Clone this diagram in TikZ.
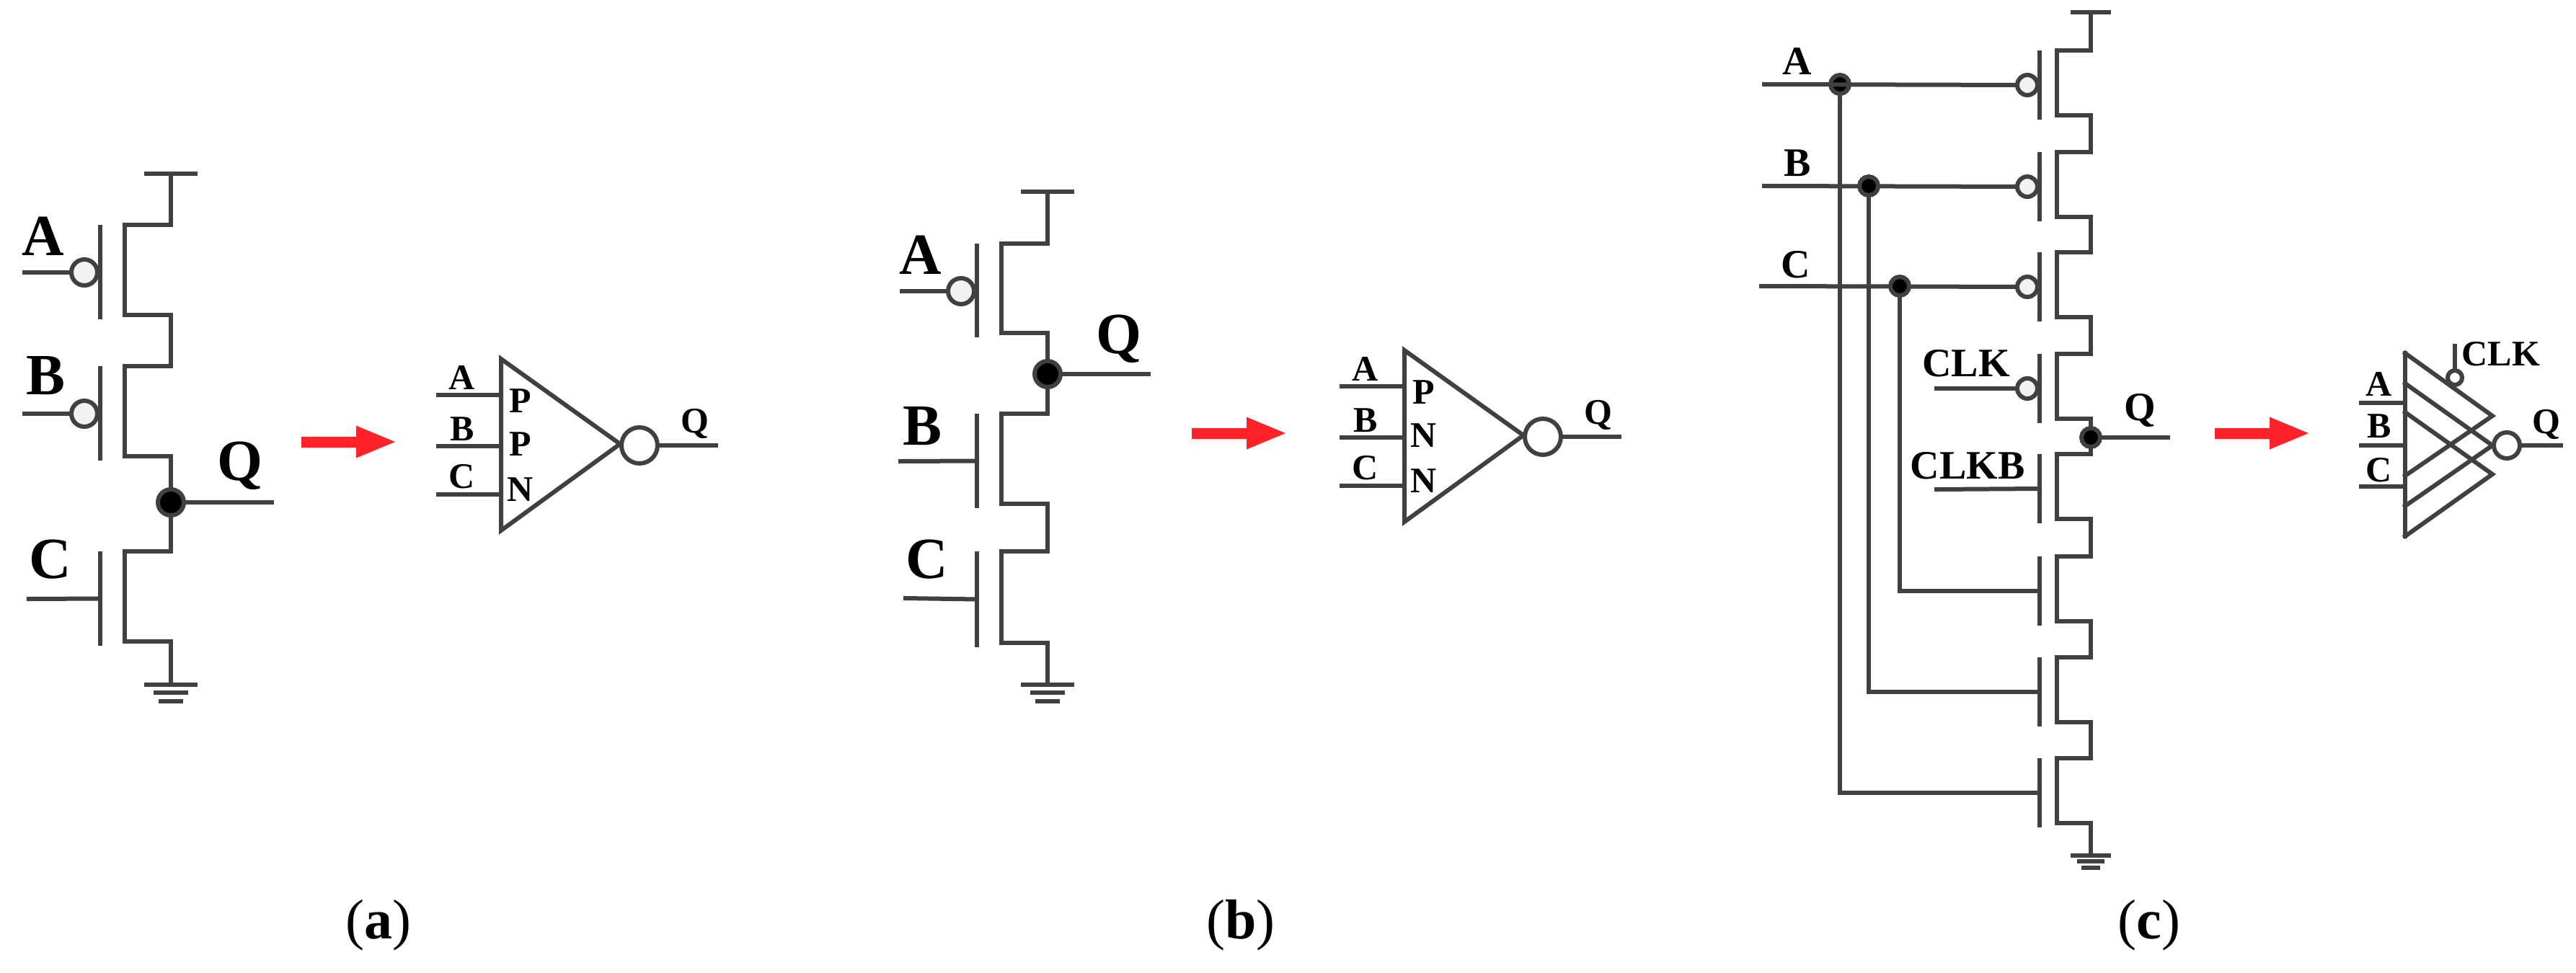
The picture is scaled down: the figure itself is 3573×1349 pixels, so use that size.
\documentclass[tikz,border=0pt]{standalone}
\usepackage{fontspec}
\setmainfont{Liberation Serif}
\usetikzlibrary{arrows.meta}

\definecolor{wiregray}{HTML}{404040}
\definecolor{arrowred}{HTML}{FF2229}

\tikzset{
    wire/.style = {draw=wiregray, line width=6pt, line cap=rect},
    bubble/.style = {circle, draw=wiregray, line width=6pt, fill=white!95!black,
        inner sep=0pt, minimum size=#1},
    bubble/.default = 36pt,
    dot/.style = {circle, draw=wiregray, line width=6pt, fill=black,
        inner sep=0pt, minimum size=#1},
    dot/.default = 36pt,
    txtbig/.style = {font=\fontsize{81}{81}\selectfont\bfseries, inner sep=0pt},
    txtmid/.style = {font=\fontsize{56}{56}\selectfont\bfseries, inner sep=0pt},
    txtsmall/.style = {font=\fontsize{50}{50}\selectfont\bfseries, inner sep=0pt},
    redarrow/.style = {draw=arrowred, line width=15pt,
        -{Triangle[length=57pt, width=40pt, fill=arrowred]}},
    caption/.style = {font=\fontsize{78}{78}\selectfont, inner sep=0pt}
}

% name, rail x, top y, height, channel offset, gate offset
\newcommand{\mosfet}[6]{
    \coordinate (#1-s) at (#2,#3);
    \coordinate (#1-d) at (#2,#3+#4);
    \coordinate (#1-gt) at (#2-#6,#3+3);
    \coordinate (#1-gb) at (#2-#6,#3+#4+3);
    \coordinate (#1-g) at (#2-#6,#3+#4/2+3);
    \draw [wire] (#1-s) -- ++(-#5,0) -- ++(0,#4) -- (#1-d);
    \draw [wire] (#1-gt) -- (#1-gb);
}

% name, x, y, size
\newcommand{\groundbars}[4]{
    \coordinate (#1) at (#2,#3);
    \draw [wire] ([xshift=-34pt*#4]#1) -- ([xshift=34pt*#4]#1);
    \draw [wire] ([xshift=-21pt*#4, yshift=-11pt*#4]#1) -- ([xshift=21pt*#4, yshift=-11pt*#4]#1);
    \draw [wire] ([xshift=-14pt*#4, yshift=-23pt*#4]#1) -- ([xshift=14pt*#4, yshift=-23pt*#4]#1);
}

% name, x, y, three letters in the triangle
\newcommand{\invgate}[6]{
    \begin{scope}[shift={(#2,#3)}]
        \coordinate (#1-t) at (0,0);
        \coordinate (#1-b) at (0,238);
        \node (#1-inv) [bubble=50pt, fill=white] at (192,120) {};
        \coordinate (#1-tip) at (165,118);
        \coordinate (#1-o) at (298,120);
        \draw [wire, line join=miter] (#1-tip) -- (#1-t) -- (#1-b) -- cycle;
        \draw [wire] (#1-inv) -- (#1-o);
        \foreach \lab/\yin/\ylab/\ytyp/\typ in {A/50/26/58/#4, B/121/97/118/#5, C/188/163/181/#6} {
            \coordinate (#1-i\lab) at (-87,\yin);
            \coordinate (#1-p\lab) at (0,\yin);
            \draw [wire] (#1-i\lab) -- (#1-p\lab);
            \node (#1-l\lab) [txtsmall] at (-54,\ylab) {\lab};
            \node (#1-t\lab) [txtsmall] at (27,\ytyp) {\typ};
        }
        \node (#1-lQ) [txtsmall] at (269,90) {Q};
    \end{scope}
}

\begin{document}
\begin{tikzpicture}[x=1pt, y=-1pt]
    \useasboundingbox (0,0) rectangle (3573,1349);

    % panel a
    \coordinate (avdd) at (237,241);
    \draw [wire] ([xshift=-34pt]avdd) -- ([xshift=34pt]avdd);
    \mosfet{a1}{237}{312}{125}{64}{98}
    \mosfet{a2}{237}{508}{125}{64}{98}
    \mosfet{a3}{237}{765}{125}{64}{98}
    \groundbars{agnd}{237}{950}{1}
    \node (an) [dot] at (237,697) {};
    \node (abA) [bubble] at (117,378) {};
    \node (abB) [bubble] at (117,574) {};
    \coordinate (aiA) at (34,378);
    \coordinate (aiB) at (34,574);
    \coordinate (aiC) at (40,831);
    \coordinate (aq) at (377,697);
    \draw [wire] (avdd) -- (a1-s);
    \draw [wire] (a1-d) -- (a2-s);
    \draw [wire] (a2-d) -- (an);
    \draw [wire] (an) -- (a3-s);
    \draw [wire] (a3-d) -- (agnd);
    \draw [wire] (aiA) -- (abA);
    \draw [wire] (aiB) -- (abB);
    \draw [wire] (aiC) -- (a3-g);
    \draw [wire] (an) -- (aq);
    \node (alA) [txtbig] at (60,328) {A};
    \node (alB) [txtbig] at (64,521) {B};
    \node (alC) [txtbig] at (70,776) {C};
    \node (alQ) [txtbig] at (333,646) {Q};
    \coordinate (ars) at (418,613);
    \coordinate (are) at (551,613);
    \draw [redarrow] (ars) -- (are);
    \invgate{ag}{695}{498}{P}{P}{N}
    \node (acap) [caption] at (525,1284) {(\textbf{a})};

    % panel b
    \coordinate (bvdd) at (1453,266);
    \draw [wire] ([xshift=-34pt]bvdd) -- ([xshift=34pt]bvdd);
    \mosfet{b1}{1453}{338}{124}{64}{98}
    \mosfet{b2}{1453}{574}{125}{64}{98}
    \mosfet{b3}{1453}{765}{127}{64}{98}
    \groundbars{bgnd}{1453}{950}{1}
    \node (bn) [dot] at (1453,519) {};
    \node (bbA) [bubble] at (1333,404) {};
    \coordinate (biA) at (1251,404);
    \coordinate (biB) at (1249,640);
    \coordinate (biC) at (1256,830);
    \coordinate (bq) at (1593,519);
    \draw [wire] (bvdd) -- (b1-s);
    \draw [wire] (b1-d) -- (bn);
    \draw [wire] (bn) -- (b2-s);
    \draw [wire] (b2-d) -- (b3-s);
    \draw [wire] (b3-d) -- (bgnd);
    \draw [wire] (biA) -- (bbA);
    \draw [wire] (biB) -- (b2-g);
    \draw [wire] (biC) -- (b3-g);
    \draw [wire] (bn) -- (bq);
    \node (blA) [txtbig] at (1277,354) {A};
    \node (blB) [txtbig] at (1279,591) {B};
    \node (blC) [txtbig] at (1286,776) {C};
    \node (blQ) [txtbig] at (1552,470) {Q};
    \coordinate (brs) at (1653,601);
    \coordinate (bre) at (1786,601);
    \draw [redarrow] (brs) -- (bre);
    \invgate{bg}{1948}{486}{P}{N}{N}
    \node (bcap) [caption] at (1721,1284) {(\textbf{b})};

    % panel c
    \coordinate (cvdd) at (2900,17);
    \draw [wire] ([xshift=-25pt]cvdd) -- ([xshift=25pt]cvdd);
    \foreach \i/\ytop in {1/70, 2/211, 3/350, 4/491, 5/630, 6/772, 7/912, 8/1052} {
        \mosfet{c\i}{2900}{\ytop}{90}{47}{71}
    }
    \groundbars{cgnd}{2900}{1187}{0.74}
    \node (cn) [dot=26pt] at (2900,607) {};
    \draw [wire] (cvdd) -- (c1-s);
    \foreach \i/\j in {1/2, 2/3, 3/4, 5/6, 6/7, 7/8} {
        \draw [wire] (c\i-d) -- (c\j-s);
    }
    \draw [wire] (c4-d) -- (cn);
    \draw [wire] (cn) -- (c5-s);
    \draw [wire] (c8-d) -- (cgnd);
    \foreach \i in {1,2,3,4} {
        \node (cb\i) [bubble=28pt] at ([xshift=-17pt]c\i-g) {};
    }
    \coordinate (ciA) at (2447,117);
    \coordinate (ciB) at (2447,258);
    \coordinate (ciC) at (2443,397);
    \coordinate (ciK) at (2686,539);
    \coordinate (ciL) at (2686,679);
    \coordinate (cq) at (3007,607);
    \coordinate (cjA) at (2552,117);
    \coordinate (cjB) at (2592,258);
    \coordinate (cjC) at (2635,397);
    \draw [wire] (ciB) -- (cb2);
    \draw [wire] (ciC) -- (cb3);
    \draw [wire] (ciK) -- (cb4);
    \draw [wire] (ciL) -- (c5-g);
    \draw [wire] (cjA) |- (c8-g);
    \draw [wire] (cjB) |- (c7-g);
    \draw [wire] (cjC) |- (c6-g);
    \draw [wire] (cn) -- (cq);
    \node (cdA) [dot=26pt] at (cjA) {};
    \node (cdB) [dot=26pt] at (cjB) {};
    \node (cdC) [dot=26pt] at (cjC) {};
    \draw [wire] (ciA) -- (cb1);
    \node (clA) [txtmid] at (2493,85) {A};
    \node (clB) [txtmid] at (2493,226) {B};
    \node (clC) [txtmid] at (2491,367) {C};
    \node (clK) [txtmid] at (2727,504) {CLK};
    \node (clL) [txtmid] at (2729,646) {CLKB};
    \node (clQ) [txtmid] at (2968,569) {Q};
    \coordinate (crs) at (3072,601);
    \coordinate (cre) at (3205,601);
    \draw [redarrow] (crs) -- (cre);

    % tri-state gate
    \coordinate (ct1) at (3336,490);
    \coordinate (ct2) at (3336,532);
    \coordinate (ct3) at (3336,572);
    \coordinate (cb1p) at (3336,660);
    \coordinate (cb2p) at (3336,702);
    \coordinate (cb3p) at (3336,744);
    \coordinate (ca1) at (3457,577);
    \coordinate (ca2) at (3457,618);
    \coordinate (ca3) at (3457,658);
    \draw [wire] (ct1) -- (cb3p);
    \draw [wire] (ct1) -- (ca1) -- (cb1p);
    \draw [wire] (ct2) -- (ca2) -- (cb2p);
    \draw [wire] (ct3) -- (ca3) -- (cb3p);
    \node (cginv) [bubble=36pt, fill=white] at (3477,618) {};
    \node (cgclk) [bubble=20pt, fill=white] at (3405,524) {};
    \coordinate (cgk) at (3405,480);
    \coordinate (cgo) at (3552,618);
    \draw [wire] (cgclk) -- (cgk);
    \draw [wire] (cginv) -- (cgo);
    \foreach \lab/\yin/\ylab in {A/559/533, B/618/591, C/675/652} {
        \coordinate (cgi\lab) at (3275,\yin);
        \coordinate (cgp\lab) at (3336,\yin);
        \draw [wire] (cgi\lab) -- (cgp\lab);
        \node (cgl\lab) [txtsmall] at (3300,\ylab) {\lab};
    }
    \node (cglK) [txtsmall] at (3469,491) {CLK};
    \node (cglQ) [txtsmall] at (3532,589) {Q};
    \node (ccap) [caption] at (2981,1284) {(\textbf{c})};
\end{tikzpicture}
\end{document}
